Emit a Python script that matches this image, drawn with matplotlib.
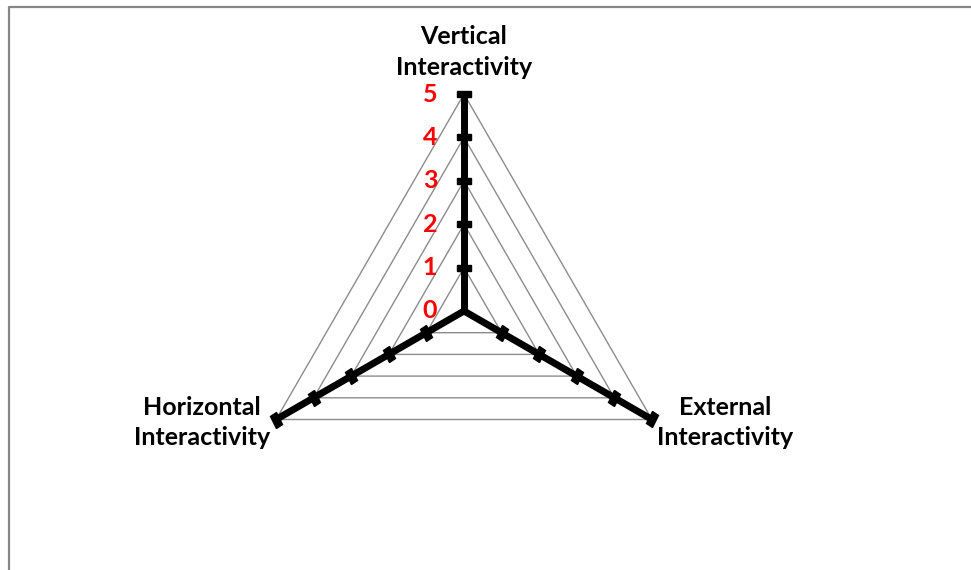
import numpy as np
import matplotlib
matplotlib.use("Agg")
import matplotlib.pyplot as plt
from matplotlib.markers import MarkerStyle
from matplotlib.transforms import Affine2D
from matplotlib.lines import Line2D

categories = ["Vertical\nInteractivity", "External\nInteractivity", "Horizontal\nInteractivity"]
tick_values = [0, 1, 2, 3, 4, 5]
r_max = 5

plt.rcParams['font.family'] = ['Lato', 'DejaVu Sans']

W, H, DPI = 971, 570, 100
fig = plt.figure(figsize=(W / DPI, H / DPI), dpi=DPI)

# outer frame (left and top edges visible)
fig.add_artist(Line2D([8.5 / W, 8.5 / W, 1.0], [0.0, 1 - 7 / H, 1 - 7 / H],
                      transform=fig.transFigure, color="#868686", lw=1.6))

cx, cy, R = 464, 570 - 311, 217
ax = fig.add_axes([(cx - R) / W, (cy - R) / H, 2 * R / W, 2 * R / H], projection="polar")
ax.set_theta_zero_location("N")
ax.set_theta_direction(-1)
ax.set_ylim(0, r_max)
ax.set_xticks([])
ax.set_yticks([])
ax.grid(False)
ax.spines["polar"].set_visible(False)
ax.patch.set_visible(False)

n = len(categories)
angles = np.arange(n) * 2 * np.pi / n
closed = np.concatenate([angles, angles[:1]])

# grid triangles
for v in tick_values[1:]:
    ax.plot(closed, [v] * (n + 1), color="#8c8c8c", lw=1.0, zorder=1, clip_on=False)

# thick spokes with tick marks
for a in angles:
    ax.plot([a, a], [0, r_max], color="black", lw=5.0, solid_capstyle="butt",
            zorder=3, clip_on=False)
    ang_deg = -np.degrees(a)  # screen rotation of the spoke
    m = MarkerStyle("s", transform=Affine2D().scale(1.0, 0.5).rotate_deg(ang_deg))
    ax.plot([a] * (len(tick_values) - 1), tick_values[1:], linestyle="none",
            marker=m, markersize=10, color="black", zorder=4, clip_on=False)

# red value labels along the vertical axis
for v in tick_values:
    ax.annotate(str(v), xy=(0, v), xytext=(-34, 0), textcoords="offset pixels",
                ha="center", va="center", color="#ff0000", fontsize=18,
                fontweight="bold", zorder=5)

# category labels
offsets = [(0, 42), (73, -3), (-74, -3)]
for a, lab, off in zip(angles, categories, offsets):
    ax.annotate(lab, xy=(a, r_max), xytext=off, textcoords="offset pixels",
                ha="center", va="center", color="black", fontsize=18,
                fontweight="bold", linespacing=1.4, annotation_clip=False)

fig.savefig("out.png", dpi=DPI)
